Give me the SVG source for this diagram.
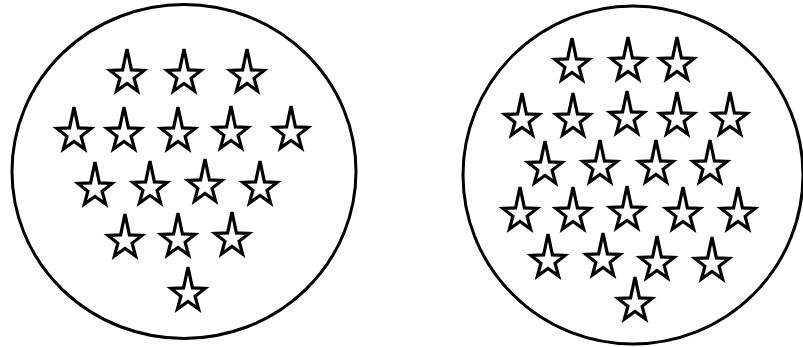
<svg xmlns="http://www.w3.org/2000/svg" xmlns:xlink="http://www.w3.org/1999/xlink" width="803" height="347" viewBox="0 0 803 347">
<style>
.ring{fill:none;stroke:#000;stroke-width:3}
.star{fill:#fff;stroke:#000;stroke-width:3.2;stroke-linejoin:miter}
</style>
<defs>
<path id="star" class="star" d="M0,-27 L4.4,-6.1 L17.1,-5.6 L7.1,2.3 L10.6,15 L0,7.5 L-10.6,15 L-7.1,2.3 L-17.1,-5.6 L-4.4,-6.1 Z"/>
</defs>
<rect width="803" height="347" fill="#fff"/>
<g id="left">
<ellipse class="ring" cx="184" cy="171.5" rx="172" ry="167"/>
<use href="#star" x="127" y="76"/><use href="#star" x="184" y="76"/><use href="#star" x="247" y="76"/>
<use href="#star" x="74" y="134"/><use href="#star" x="124" y="134"/><use href="#star" x="178" y="134"/><use href="#star" x="231" y="133"/><use href="#star" x="291" y="133"/>
<use href="#star" x="95" y="189"/><use href="#star" x="150" y="188"/><use href="#star" x="205" y="186"/><use href="#star" x="260" y="188"/>
<use href="#star" x="125" y="241"/><use href="#star" x="178" y="240"/><use href="#star" x="232" y="239"/>
<use href="#star" x="188" y="294"/>
</g>
<g id="right">
<ellipse class="ring" cx="633" cy="175" rx="170" ry="169"/>
<use href="#star" x="572" y="65"/><use href="#star" x="628" y="64"/><use href="#star" x="677" y="64"/>
<use href="#star" x="522" y="120"/><use href="#star" x="573" y="120"/><use href="#star" x="627" y="118"/><use href="#star" x="677" y="119"/><use href="#star" x="730" y="119"/>
<use href="#star" x="545" y="168"/><use href="#star" x="600" y="167"/><use href="#star" x="656" y="167"/><use href="#star" x="710" y="167"/>
<use href="#star" x="520" y="214"/><use href="#star" x="573" y="214"/><use href="#star" x="627" y="213"/><use href="#star" x="683" y="214"/><use href="#star" x="738" y="214"/>
<use href="#star" x="548" y="261"/><use href="#star" x="603" y="260"/><use href="#star" x="657" y="263"/><use href="#star" x="712" y="264"/>
<use href="#star" x="635" y="304"/>
</g>
</svg>
